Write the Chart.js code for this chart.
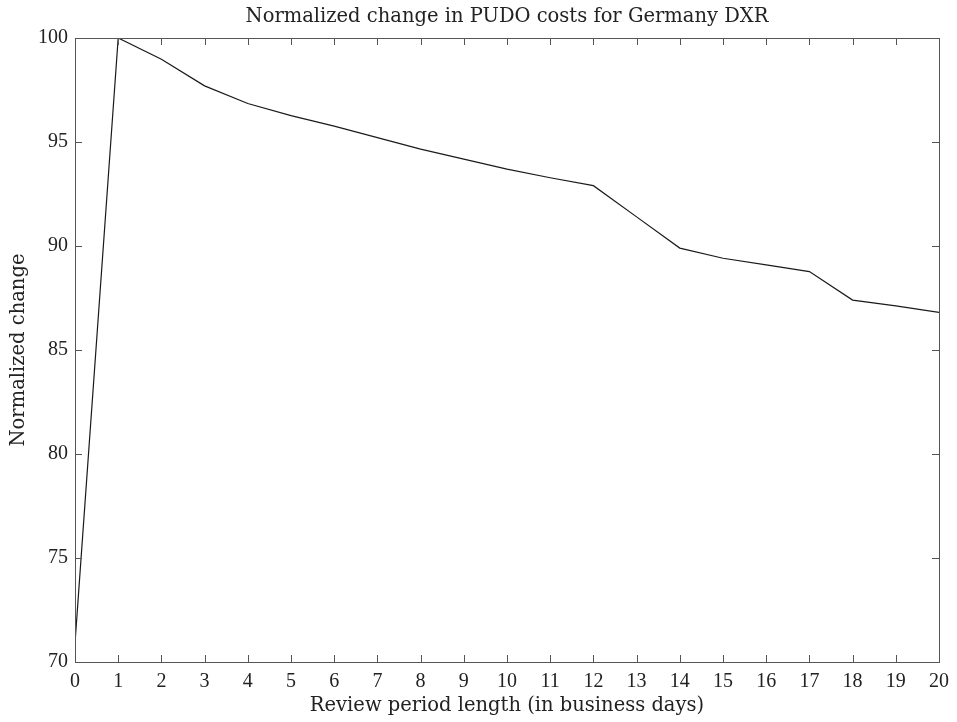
<!DOCTYPE html>
<html>
<head>
<meta charset="utf-8">
<script src="https://cdn.jsdelivr.net/npm/chart.js@4.4.1/dist/chart.umd.min.js"></script>
<style>
  html, body { margin: 0; padding: 0; background: #fff; }
  #wrap { width: 957px; height: 722px; }
</style>
</head>
<body>
<div id="wrap"><canvas id="chart"></canvas></div>
<script>
// data
const days = [0, 1, 2, 3, 4, 5, 6, 7, 8, 9, 10, 11, 12, 13, 14, 15, 16, 17, 18, 19, 20];
const normalizedChange = [70.9, 100, 98.98, 97.7, 96.85, 96.27, 95.76, 95.21, 94.66, 94.18, 93.7, 93.28, 92.9, 91.4, 89.9, 89.41, 89.09, 88.77, 87.4, 87.12, 86.81];
const yTicks = [70, 75, 80, 85, 90, 95, 100];

const chartTitle = 'Normalized change in PUDO costs for Germany DXR';
const xTitle = 'Review period length (in business days)';
const yTitle = 'Normalized change';

const serif = "'Liberation Serif', 'DejaVu Serif', serif";
const wideSerif = "'DejaVu Serif', 'Liberation Serif', serif";
const inkColor = '#222';
const axisColor = '#555';

// box around the plot, inward ticks on all four sides, title centred on plot
const frame = {
    id: 'frame',
    afterDatasetsDraw(chart) {
        const ctx = chart.ctx;
        const a = chart.chartArea;
        const x = chart.scales.x;
        const y = chart.scales.y;
        const len = 7;
        ctx.save();
        ctx.strokeStyle = axisColor;
        ctx.lineWidth = 1;
        ctx.strokeRect(a.left + 0.5, a.top + 0.5, a.right - a.left, a.bottom - a.top);
        ctx.beginPath();
        x.ticks.forEach(t => {
            const px = Math.round(x.getPixelForValue(t.value)) + 0.5;
            ctx.moveTo(px, a.bottom);
            ctx.lineTo(px, a.bottom - len);
            ctx.moveTo(px, a.top);
            ctx.lineTo(px, a.top + len);
        });
        y.ticks.forEach(t => {
            const py = Math.round(y.getPixelForValue(t.value)) + 0.5;
            ctx.moveTo(a.left, py);
            ctx.lineTo(a.left + len, py);
            ctx.moveTo(a.right, py);
            ctx.lineTo(a.right - len, py);
        });
        ctx.stroke();

        ctx.fillStyle = inkColor;
        ctx.font = '19.5px ' + wideSerif;
        ctx.textAlign = 'center';
        ctx.textBaseline = 'middle';
        ctx.fillText(chartTitle, (a.left + a.right) / 2, 17);
        ctx.restore();
    }
};

new Chart(document.getElementById('chart'), {
    type: 'line',
    data: {
        labels: days,
        datasets: [{
            data: days.map((d, i) => ({ x: d, y: normalizedChange[i] })),
            borderColor: '#1a1a1a',
            borderWidth: 1.2,
            pointRadius: 0,
            tension: 0,
            fill: false
        }]
    },
    options: {
        responsive: true,
        maintainAspectRatio: false,
        animation: false,
        layout: { padding: { top: 38, right: 15, left: 0, bottom: 0 } },
        plugins: {
            legend: { display: false },
            title: { display: false },
            tooltip: { enabled: false }
        },
        scales: {
            x: {
                type: 'linear',
                min: 0,
                max: 20,
                afterFit(scale) { scale.height = 60; },
                grid: { display: false, drawTicks: false },
                border: { display: false },
                ticks: {
                    stepSize: 1,
                    padding: 8,
                    maxRotation: 0,
                    autoSkip: false,
                    color: inkColor,
                    font: { family: serif, size: 20 }
                },
                title: {
                    display: true,
                    text: xTitle,
                    color: inkColor,
                    font: { family: wideSerif, size: 19.5 },
                    padding: { top: 0, bottom: 4 }
                }
            },
            y: {
                min: 70,
                max: 100,
                afterFit(scale) { scale.width = 75; },
                afterBuildTicks(scale) { scale.ticks = yTicks.map(v => ({ value: v })); },
                grid: { display: false, drawTicks: false },
                border: { display: false },
                ticks: {
                    padding: 7,
                    color: inkColor,
                    font: { family: serif, size: 20 }
                },
                title: {
                    display: true,
                    text: yTitle,
                    color: inkColor,
                    font: { family: wideSerif, size: 19.5 },
                    padding: { top: 7, bottom: 0 }
                }
            }
        }
    },
    plugins: [frame]
});
</script>
</body>
</html>
